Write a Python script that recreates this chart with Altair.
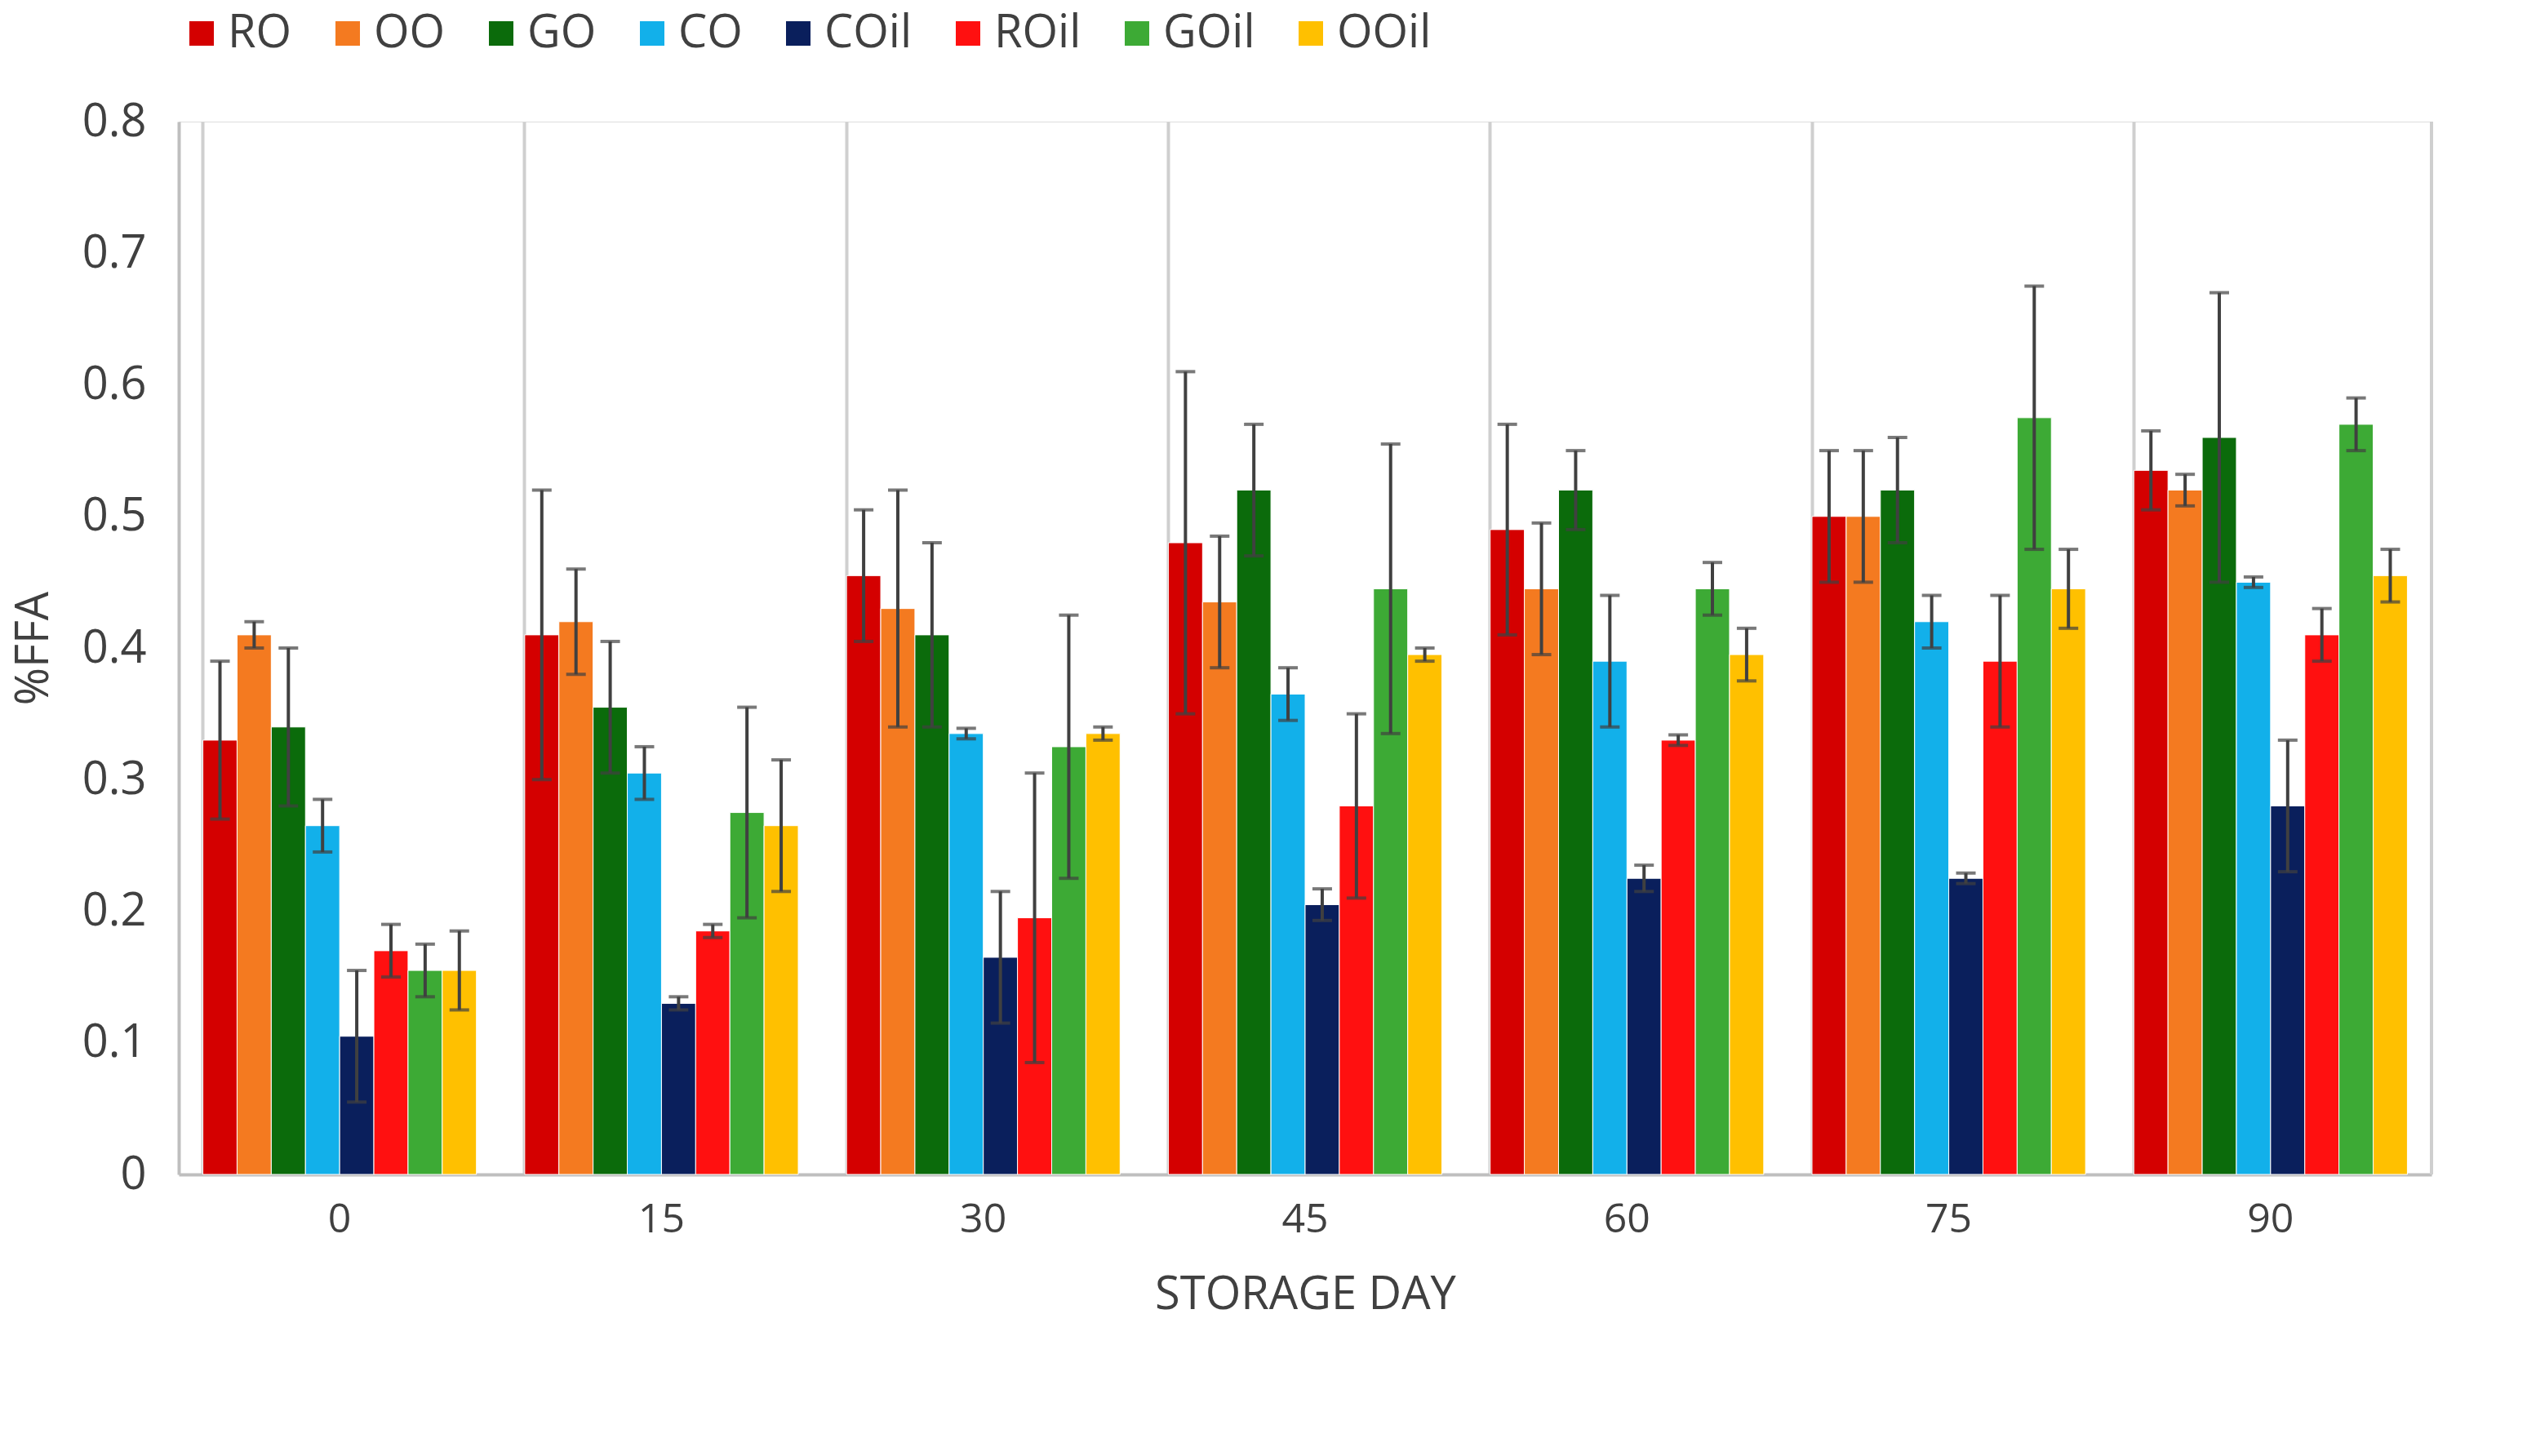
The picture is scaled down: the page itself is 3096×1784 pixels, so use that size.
import altair as alt
import pandas as pd

days = ["0", "15", "30", "45", "60", "75", "90"]
series = ["RO", "OO", "GO", "CO", "COil", "ROil", "GOil", "OOil"]
colors = ["#D40000", "#F47A20", "#0B6B0B", "#12B0EA", "#0A1F5C", "#FF1010", "#3DAA35", "#FFC000"]

values = {
    "RO":   [0.33, 0.41, 0.455, 0.48, 0.49, 0.50, 0.535],
    "OO":   [0.41, 0.42, 0.43, 0.435, 0.445, 0.50, 0.52],
    "GO":   [0.34, 0.355, 0.41, 0.52, 0.52, 0.52, 0.56],
    "CO":   [0.265, 0.305, 0.335, 0.365, 0.39, 0.42, 0.45],
    "COil": [0.105, 0.13, 0.165, 0.205, 0.225, 0.225, 0.28],
    "ROil": [0.17, 0.185, 0.195, 0.28, 0.33, 0.39, 0.41],
    "GOil": [0.155, 0.275, 0.325, 0.445, 0.445, 0.575, 0.57],
    "OOil": [0.155, 0.265, 0.335, 0.395, 0.395, 0.445, 0.455],
}
errors = {
    "RO":   [0.06, 0.11, 0.05, 0.13, 0.08, 0.05, 0.03],
    "OO":   [0.01, 0.04, 0.09, 0.05, 0.05, 0.05, 0.012],
    "GO":   [0.06, 0.05, 0.07, 0.05, 0.03, 0.04, 0.11],
    "CO":   [0.02, 0.02, 0.004, 0.02, 0.05, 0.02, 0.004],
    "COil": [0.05, 0.005, 0.05, 0.012, 0.01, 0.004, 0.05],
    "ROil": [0.02, 0.005, 0.11, 0.07, 0.004, 0.05, 0.02],
    "GOil": [0.02, 0.08, 0.10, 0.11, 0.02, 0.10, 0.02],
    "OOil": [0.03, 0.05, 0.005, 0.005, 0.02, 0.03, 0.02],
}

rows = []
for s in series:
    for i, d in enumerate(days):
        v, e = values[s][i], errors[s][i]
        rows.append({"day": d, "series": s, "value": v, "lo": v - e, "hi": v + e})
df = pd.DataFrame(rows)

W, H = 2760, 1290
xenc = alt.X("day:N", sort=days, title="STORAGE DAY",
             scale=alt.Scale(paddingInner=0.15, paddingOuter=0.075),
             axis=alt.Axis(grid=True, bandPosition=0, gridColor="#CFCFCF", gridWidth=4,
                           labelAngle=0, labelFontSize=50, titleFontSize=56, titleFontWeight="normal",
                           labelColor="#404040", titleColor="#404040", ticks=False,
                           domainColor="#BFBFBF", domainWidth=4, labelPadding=30, titlePadding=40))
xoff = alt.XOffset("series:N", sort=series)

base = alt.Chart(df)
bars = base.mark_bar(stroke="white", strokeWidth=1).encode(
    x=xenc, xOffset=xoff,
    y=alt.Y("value:Q", title="%FFA",
            scale=alt.Scale(domain=[0, 0.8]),
            axis=alt.Axis(values=[0, 0.1, 0.2, 0.3, 0.4, 0.5, 0.6, 0.7, 0.8], format="~g",
                          grid=False, ticks=False, labelFontSize=56, titleFontSize=56,
                          titleFontWeight="normal", labelColor="#404040", titleColor="#404040",
                          domainColor="#BFBFBF", domainWidth=4, labelPadding=40, titlePadding=30)),
    color=alt.Color("series:N", sort=series, scale=alt.Scale(domain=series, range=colors),
                    legend=alt.Legend(orient="top", direction="horizontal", title=None,
                                      labelFontSize=56, symbolType="square", symbolSize=900,
                                      symbolStrokeWidth=0, labelColor="#404040",
                                      columnPadding=40, offset=80)),
)
rule = base.mark_rule(color="#404040", strokeWidth=4).encode(
    x=alt.X("day:N", sort=days), xOffset=xoff, y="lo:Q", y2="hi:Q")
cap_lo = base.mark_tick(color="#404040", thickness=4, size=24).encode(
    x=alt.X("day:N", sort=days), xOffset=xoff, y="lo:Q")
cap_hi = base.mark_tick(color="#404040", thickness=4, size=24).encode(
    x=alt.X("day:N", sort=days), xOffset=xoff, y="hi:Q")
right = alt.Chart(pd.DataFrame({"a": [0]})).mark_rule(color="#CFCFCF", strokeWidth=4).encode(
    x=alt.value(W), y=alt.value(0), y2=alt.value(H))

chart = alt.layer(bars, rule, cap_lo, cap_hi, right).properties(width=W, height=H).configure_view(
    stroke=None).configure(font="Open Sans")

chart.save("out.html", embed_options={"renderer": "svg", "actions": False})
